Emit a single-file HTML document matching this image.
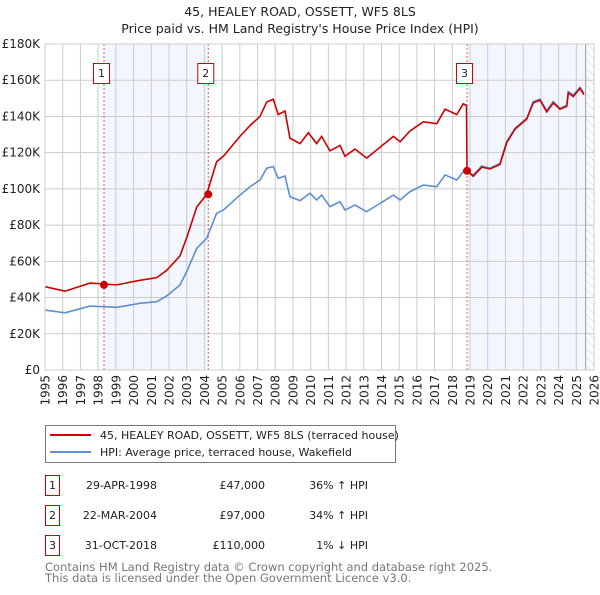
<!DOCTYPE html>
<html><head><meta charset="utf-8"><style>
body{margin:0;background:#fff;font-family:"Liberation Sans","DejaVu Sans",sans-serif;}
svg text{font-family:"DejaVu Sans","Liberation Sans",sans-serif;}
</style></head><body>
<svg id="chart" width="600" height="590" xmlns="http://www.w3.org/2000/svg">
<defs><pattern id="hatch" width="6" height="6" patternUnits="userSpaceOnUse" patternTransform="rotate(-45)"><line x1="0" y1="0" x2="0" y2="6" stroke="#ccc" stroke-width="1"/></pattern></defs>
<text x="300" y="16" text-anchor="middle" font-size="12.5" fill="#222">45, HEALEY ROAD, OSSETT, WF5 8LS</text>
<text x="300" y="33" text-anchor="middle" font-size="12.5" fill="#222">Price paid vs. HM Land Registry's House Price Index (HPI)</text>
<g id="plot"></g>
<g>
<rect x="45.5" y="425.5" width="350" height="37" fill="#fff" stroke="#777"/>
<line x1="50" y1="435" x2="91" y2="435" stroke="#cc0000" stroke-width="2"/>
<text x="100" y="439" font-size="11" fill="#222">45, HEALEY ROAD, OSSETT, WF5 8LS (terraced house)</text>
<line x1="50" y1="452" x2="91" y2="452" stroke="#5f8fcf" stroke-width="2"/>
<text x="100" y="456" font-size="11" fill="#222">HPI: Average price, terraced house, Wakefield</text>
</g>
<g font-size="11" fill="#222">
<rect x="45.5" y="475.5" width="14" height="20" fill="#fff" stroke="#cc0000"/><text x="52.5" y="489" text-anchor="middle">1</text>
<text x="157" y="489" text-anchor="end">29-APR-1998</text><text x="265" y="489" text-anchor="end">£47,000</text><text x="368" y="489" text-anchor="end">36% ↑ HPI</text>
<rect x="45.5" y="505.5" width="14" height="20" fill="#fff" stroke="#cc0000"/><text x="52.5" y="519" text-anchor="middle">2</text>
<text x="157" y="519" text-anchor="end">22-MAR-2004</text><text x="265" y="519" text-anchor="end">£97,000</text><text x="368" y="519" text-anchor="end">34% ↑ HPI</text>
<rect x="45.5" y="535.5" width="14" height="20" fill="#fff" stroke="#cc0000"/><text x="52.5" y="549" text-anchor="middle">3</text>
<text x="157" y="549" text-anchor="end">31-OCT-2018</text><text x="265" y="549" text-anchor="end">£110,000</text><text x="368" y="549" text-anchor="end">1% ↓ HPI</text>
</g>
<text x="45" y="571" font-size="11.5" fill="#777">Contains HM Land Registry data © Crown copyright and database right 2025.</text>
<text x="45" y="582" font-size="11.5" fill="#777">This data is licensed under the Open Government Licence v3.0.</text>
</svg>
<script>
const hpiYears=[1995,1996.13,1997.54,1999.05,2000.36,2001.31,2001.87,2002.62,2003.0,2003.57,2004.13,2004.69,2005.07,2006.01,2006.58,2007.14,2007.52,2007.89,2008.17,2008.55,2008.83,2009.4,2009.96,2010.34,2010.62,2011.09,2011.66,2011.94,2012.5,2013.16,2013.92,2014.67,2015.05,2015.61,2016.36,2017.12,2017.59,2018.25,2018.62,2018.81,2019.18,2019.66,2020.13,2020.69,2021.07,2021.54,2022.2,2022.57,2022.95,2023.33,2023.7,2024.08,2024.46,2024.55,2024.83,2025.21,2025.43];
const hpiValues=[33.1,31.6,35.3,34.6,36.8,37.7,40.9,46.9,54.3,67.2,72.7,86.5,88.3,96.6,101.2,104.9,111.4,112.3,105.8,107.1,95.7,93.5,97.6,93.9,96.6,90.2,92.9,88.3,91.1,87.4,92.0,96.6,93.9,98.5,102.1,101.2,107.7,104.9,109.5,109.5,107.7,112.6,111.4,114.1,126.1,133.5,139.0,148.2,149.5,143.2,148.2,144.5,146.3,153.7,151.8,156.1,152.8];
const propYears=[1995,1996.13,1997.54,1999.05,2000.36,2001.31,2001.87,2002.62,2003.0,2003.57,2004.13,2004.69,2005.07,2006.01,2006.58,2007.14,2007.52,2007.89,2008.17,2008.55,2008.83,2009.4,2009.87,2010.34,2010.62,2011.09,2011.66,2011.94,2012.5,2013.16,2013.92,2014.67,2015.05,2015.61,2016.36,2017.12,2017.59,2018.25,2018.62,2018.8,2018.83,2019.18,2019.66,2020.13,2020.69,2021.07,2021.54,2022.2,2022.57,2022.95,2023.33,2023.7,2024.08,2024.46,2024.55,2024.83,2025.21,2025.43];
const propValues=[46,43.5,48,47,49.5,51,55,63,73,90,97,115,118,129,135,140,148,149.5,141,143,128,125,131,125,129,121,124,118,122,117,123,129,126,132,137,136,144,141,147,146,110,107,112,111,113.5,125.5,133,138.5,147.5,149,142.5,147.5,144,145.5,153,151,155.5,152];
const saleYears=[1998.33,2004.22,2018.83];
const saleValues=[47,97,110];
const saleLabels=["1","2","3"];
const yTicks=[0,20,40,60,80,100,120,140,160,180];
const yTickLabels=["£0","£20K","£40K","£60K","£80K","£100K","£120K","£140K","£160K","£180K"];
const xTicks=[1995,1996,1997,1998,1999,2000,2001,2002,2003,2004,2005,2006,2007,2008,2009,2010,2011,2012,2013,2014,2015,2016,2017,2018,2019,2020,2021,2022,2023,2024,2025,2026];

const L=45,R=594,T=44,B=370;
const xS=y=>L+(y-1995)/(2026-1995)*(R-L);
const yS=v=>B-v/180*(B-T);
const NS="http://www.w3.org/2000/svg";
const g=document.getElementById('plot');
function mk(t,a,p){const e=document.createElementNS(NS,t);for(const k in a)e.setAttribute(k,a[k]);(p||g).appendChild(e);return e;}
let s1=mk('rect',{x:xS(saleYears[0]),y:T,width:xS(saleYears[1])-xS(saleYears[0]),height:B-T,fill:'#f3f6fd'});


let s3=mk('rect',{x:xS(saleYears[2]),y:T,width:xS(2025.53)-xS(saleYears[2]),height:B-T,fill:'#f3f6fd'});


let h=mk('rect',{x:xS(2025.53),y:T,width:R-xS(2025.53),height:B-T,fill:'url(#hatch)'});


xTicks.forEach(t=>{const x=xS(t);
 const l=mk('line',{x1:x,y1:T,x2:x,y2:B,stroke:'#ccc','stroke-width':1});
 
 
 const tx=mk('text',{x:0,y:0,'text-anchor':'end','font-size':12,fill:'#222',transform:'translate('+(x+4.5)+',375) rotate(-90)'});tx.textContent=t;
 
 
});
yTicks.forEach((t,i)=>{const y=yS(t);
 const l=mk('line',{x1:L,y1:y,x2:R,y2:y,stroke:'#ccc','stroke-width':1});
 
 
 const tx=mk('text',{x:40,y:y+4,'text-anchor':'end','font-size':12,fill:'#222'});tx.textContent=yTickLabels[i];
 
 
});
const ed=mk('line',{x1:xS(2025.53),y1:T,x2:xS(2025.53),y2:B,stroke:'#999','stroke-width':1});


saleYears.forEach((yr,i)=>{const x=xS(yr);
 const l=mk('line',{x1:x,y1:T,x2:x,y2:B,stroke:'#e06060','stroke-width':1,'stroke-dasharray':'2,2'});
 
 
 const r=mk('rect',{x:x-10.5,y:63.5,width:16,height:20,fill:'#fff',stroke:'#cc0000'});
 
 
 const tx=mk('text',{x:x-2.5,y:77,'text-anchor':'middle','font-size':11,fill:'#222'});tx.textContent=saleLabels[i];
 
 
});
const hp=mk('polyline',{points:hpiYears.map((y,i)=>xS(y)+','+yS(hpiValues[i])).join(' '),fill:'none',stroke:'#5f8fcf','stroke-width':1.6});


const pp=mk('polyline',{points:propYears.map((y,i)=>xS(y)+','+yS(propValues[i])).join(' '),fill:'none',stroke:'#cc0000','stroke-width':1.6});


saleYears.forEach((yr,i)=>{
 const c=mk('circle',{cx:xS(yr),cy:yS(saleValues[i]),r:4,fill:'#cc0000'});
 
 
});
const fr=mk('rect',{x:L,y:T,width:R-L,height:B-T,fill:'none',stroke:'#ccc'});


</script>
</body></html>
